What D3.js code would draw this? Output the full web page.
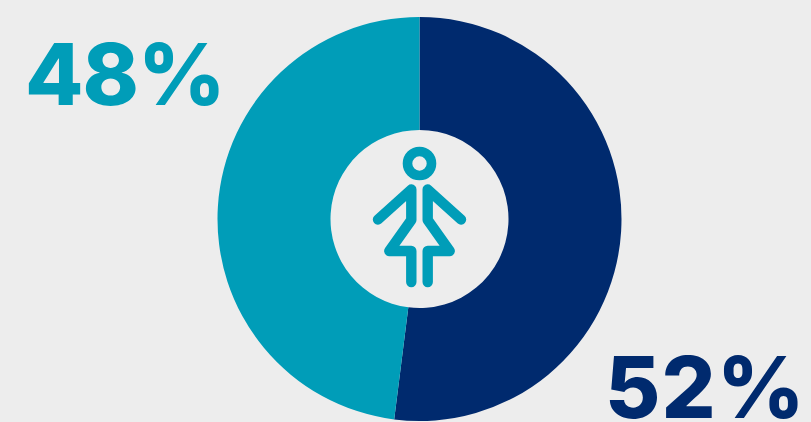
<!DOCTYPE html>
<html>
<head>
<meta charset="utf-8">
<script src="https://cdn.jsdelivr.net/npm/d3@7/dist/d3.min.js"></script>
<style>
html,body{margin:0;padding:0;background:#ededed;overflow:hidden}
svg{display:block}
text{font-family:Inter,"Open Sans",sans-serif;font-weight:800}
</style>
</head>
<body>
<svg id="chart" width="811" height="422"></svg>
<script>
const groups = ["Men", "Women"];
const shares = [52, 48];
const labels = ["52%", "48%"];
const colors = ["#002a6e", "#009db8"];

const width = 811, height = 422;
const cx = 419.5, cy = 219, outerR = 202, innerR = 89;

const svg = d3.select("#chart");
svg.append("rect").attr("width", width).attr("height", height).attr("fill", "#ededed");

const pie = d3.pie().sort(null).value(d => d);
const arc = d3.arc().innerRadius(innerR).outerRadius(outerR);

const ring = svg.append("g").attr("transform", `translate(${cx},${cy})`);
ring.selectAll("path")
  .data(pie(shares))
  .join("path")
  .attr("d", arc)
  .attr("fill", (d, i) => colors[i]);

// Share labels sit in opposite corners of the canvas
const labelAnchors = [[605, 417.5], [25, 105]];
const labelTracking = [1.2, -1];
svg.selectAll("text.share")
  .data(labels)
  .join("text")
  .attr("class", "share")
  .attr("x", (d, i) => labelAnchors[i][0])
  .attr("y", (d, i) => labelAnchors[i][1])
  .attr("font-size", 85)
  .attr("letter-spacing", (d, i) => labelTracking[i])
  .attr("fill", (d, i) => colors[i])
  .text(d => d);

// Pictogram in the hole of the ring, mirrored about its vertical axis
const icon = svg.append("g")
  .attr("transform", `translate(${cx},${cy})`)
  .attr("fill", "none")
  .attr("stroke", colors[1])
  .attr("stroke-linecap", "round")
  .attr("stroke-linejoin", "round");

icon.append("circle")
  .attr("cx", 0).attr("cy", -55.5).attr("r", 12)
  .attr("stroke-width", 9.6);

const side = [[-41.5, 0.5], [-8.2, -29.5], [-8.2, 1], [-30.2, 32], [-8.2, 32], [-8.2, 63]];
const limb = d3.line();
icon.append("path").attr("d", limb(side)).attr("stroke-width", 10.4);
icon.append("path").attr("d", limb(side.map(([x, y]) => [-x, y]))).attr("stroke-width", 10.4);
</script>
</body>
</html>
